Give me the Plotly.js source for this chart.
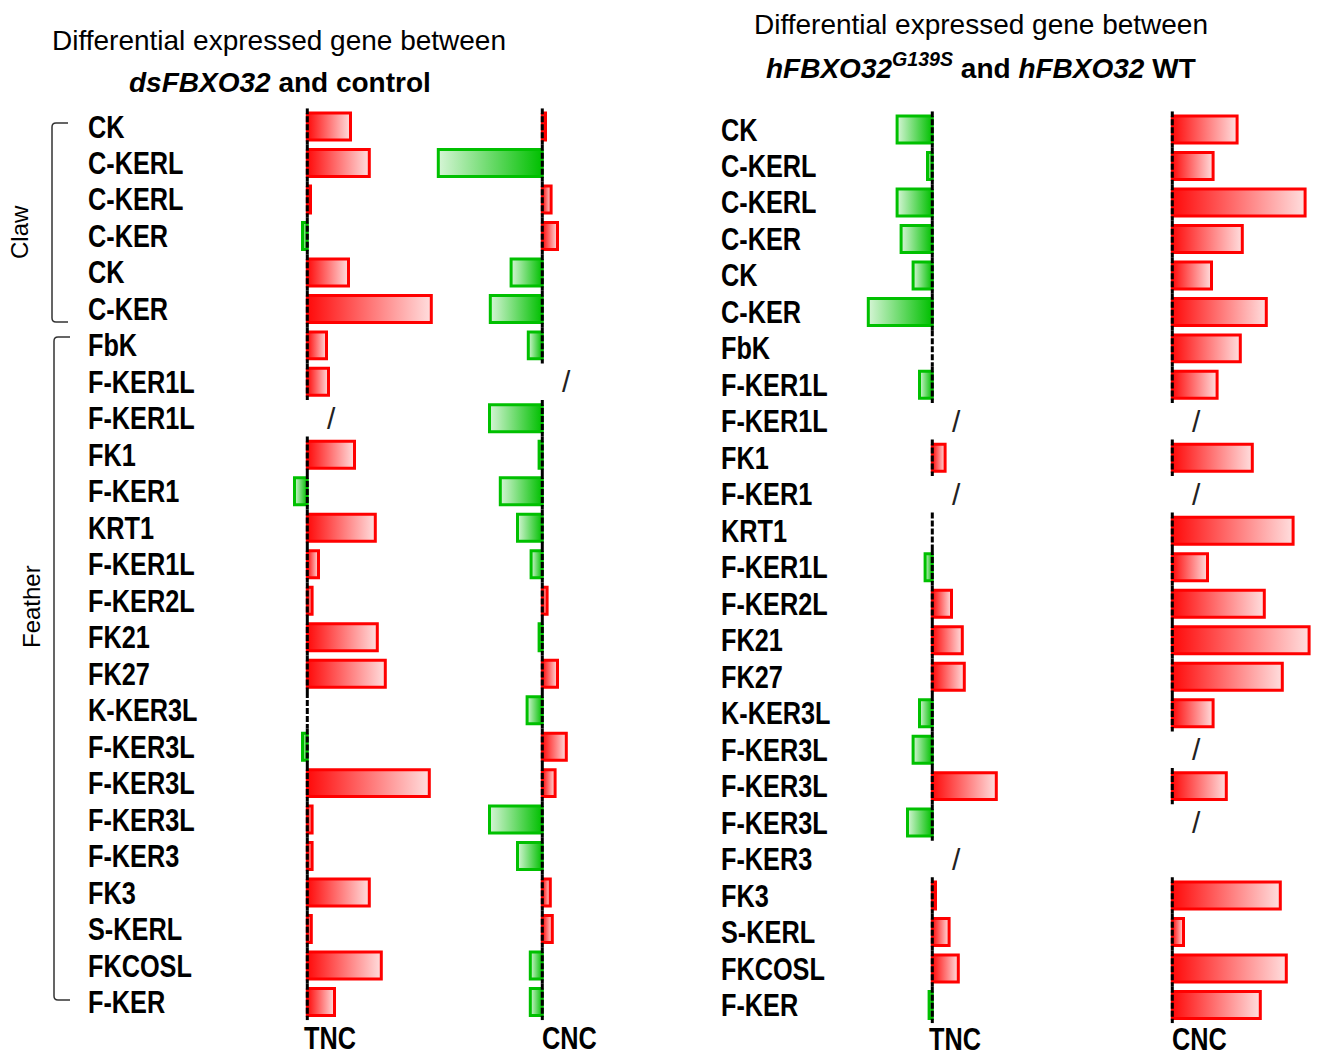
<!DOCTYPE html>
<html>
<head>
<meta charset="utf-8">
<script src="https://cdn.plot.ly/plotly-3.0.1.min.js"></script>
<style>html,body{margin:0;padding:0;background:#fff;}#chart{width:1319px;height:1057px;}</style>
</head>
<body>
<div id="chart"></div>
<script>
// ---------- data ----------
const genes = ['CK','C-KERL','C-KERL','C-KER','CK','C-KER','FbK','F-KER1L','F-KER1L','FK1','F-KER1','KRT1','F-KER1L','F-KER2L','FK21','FK27','K-KER3L','F-KER3L','F-KER3L','F-KER3L','F-KER3','FK3','S-KERL','FKCOSL','F-KER'];
const columns = ['TNC', 'CNC'];
// dsFBXO32 vs control (null = not detected, shown as "/")
const dsTNC = [1.08, 1.55, 0.08, -0.12, 1.03, 3.10, 0.48, 0.53, null, 1.18, -0.32, 1.70, 0.28, 0.12, 1.75, 1.95, 0, -0.12, 3.05, 0.12, 0.12, 1.55, 0.10, 1.85, 0.68];
const dsCNC = [0.08, -2.60, 0.22, 0.38, -0.78, -1.30, -0.35, null, -1.32, -0.08, -1.05, -0.62, -0.28, 0.12, -0.08, 0.38, -0.38, 0.60, 0.32, -1.32, -0.62, 0.20, 0.25, -0.30, -0.30];
// hFBXO32 G139S vs hFBXO32 WT
const mutTNC = [-0.88, -0.12, -0.88, -0.78, -0.48, -1.60, 0, -0.32, null, 0.32, null, 0, -0.18, 0.48, 0.75, 0.80, -0.32, -0.48, 1.60, -0.62, null, 0.08, 0.42, 0.65, -0.08];
const mutCNC = [1.62, 1.02, 3.32, 1.75, 0.98, 2.35, 1.70, 1.12, null, 2.00, null, 3.02, 0.88, 2.30, 3.42, 2.75, 1.02, null, 1.35, null, null, 2.70, 0.28, 2.85, 2.20];
const mutCNCunmarked = [20];   // missing without "/" mark
const groups = [{name: 'Claw', first: 0, last: 5}, {name: 'Feather', first: 6, last: 24}];

// ---------- styling ----------
const W = 1319, H = 1057;
const PXU = 40;                       // pixels per unit on every value axis
const SX = 0.79;                      // horizontal condensing of bold labels (narrow face)
const RED = '#ff0000', GREEN = '#00c000';
const redScale = [[0, '#ff0a0a'], [1, '#ffdede']];
const greenScale = [[0, '#d6f5d6'], [1, '#00c000']];
const labelFont = {family: 'Liberation Sans, Arial', size: 32, color: '#000'};
const titleFont = {family: 'Liberation Sans, Arial', size: 28, color: '#000'};
const px = p => p / W;
const py = p => 1 - p / H;

function axisFor(d0, d1, zeroPx, anchor) {
  return {domain: [px(d0), px(d1)], range: [(d0 - zeroPx) / PXU, (d1 - zeroPx) / PXU],
          visible: false, fixedrange: true, anchor: anchor};
}

const traces = [];
const annotations = [];
const condensed = new Set();
const HALF = 0.37;

function addColumn(values, xa, ya, unmarked) {
  values.forEach((v, i) => {
    if (v === null || v === 0) return;
    traces.push({
      type: 'scatter', mode: 'lines', xaxis: xa, yaxis: ya,
      x: [0, v, v, 0, 0], y: [i - HALF, i - HALF, i + HALF, i + HALF, i - HALF],
      fill: 'toself',
      fillgradient: {type: 'horizontal', colorscale: v > 0 ? redScale : greenScale},
      line: {color: v > 0 ? RED : GREEN, width: 3},
      hoverinfo: 'skip', showlegend: false
    });
  });
  // dashed zero line segments (only rows with a value)
  const zx = [], zy = [];
  values.forEach((v, i) => {
    if (v === null) return;
    zx.push(0, 0, null); zy.push(i - 0.5, i + 0.5, null);
  });
  traces.push({type: 'scatter', mode: 'lines', xaxis: xa, yaxis: ya, x: zx, y: zy,
    line: {color: '#000', width: 3, dash: '6px,2px'}, hoverinfo: 'skip', showlegend: false});
  // "/" marks for missing values
  values.forEach((v, i) => {
    if (v !== null || (unmarked || []).includes(i)) return;
    annotations.push({xref: xa, yref: ya, x: 0.6, y: i, text: '/', showarrow: false,
      font: {family: 'Liberation Sans, Arial', size: 30, color: '#222'}});
  });
}

addColumn(dsTNC, 'x', 'y');
addColumn(dsCNC, 'x2', 'y');
addColumn(mutTNC, 'x3', 'y2');
addColumn(mutCNC, 'x4', 'y2', mutCNCunmarked);

function addCondensed(a) { condensed.add(annotations.length); annotations.push(a); }

// gene labels
genes.forEach((g, i) => {
  addCondensed({xref: 'paper', yref: 'y', x: px(86), y: i, xanchor: 'left', yanchor: 'middle',
    text: '<b>' + g + '</b>', showarrow: false, font: labelFont});
  addCondensed({xref: 'paper', yref: 'y2', x: px(719), y: i, xanchor: 'left', yanchor: 'middle',
    text: '<b>' + g + '</b>', showarrow: false, font: labelFont});
});

// column labels
[['x', -5, 1038], ['x2', -2, 1038], ['x3', -5, 1039], ['x4', -2, 1039]].forEach((c, k) => {
  addCondensed({xref: c[0], yref: 'paper', x: 0, y: py(c[2]), xanchor: 'left', yanchor: 'middle',
    xshift: c[1], text: '<b>' + columns[k % 2] + '</b>', showarrow: false, font: labelFont});
});

// titles
annotations.push({xref: 'paper', yref: 'paper', x: px(279), y: py(40), xanchor: 'center', yanchor: 'middle',
  text: 'Differential expressed gene between', showarrow: false, font: titleFont});
annotations.push({xref: 'paper', yref: 'paper', x: px(280), y: py(82), xanchor: 'center', yanchor: 'middle',
  text: '<b><i>dsFBXO32</i> and control</b>', showarrow: false, font: titleFont});
annotations.push({xref: 'paper', yref: 'paper', x: px(981), y: py(25), xanchor: 'center', yanchor: 'middle',
  text: 'Differential expressed gene between', showarrow: false, font: titleFont});
annotations.push({xref: 'paper', yref: 'paper', x: px(981), y: py(66), xanchor: 'center', yanchor: 'middle',
  text: '<b><i>hFBXO32<sup>G139S</sup></i> and <i>hFBXO32</i> WT</b>', showarrow: false, font: titleFont});

// group brackets
const shapes = [];
const brackets = [{top: 123, bottom: 322, x: 52, tip: 68, tx: 20, ty: 232}, {top: 337, bottom: 1000, x: 54, tip: 70, tx: 31, ty: 607}];
groups.forEach((g, k) => {
  const b = brackets[k];
  const path = `M ${px(b.tip)},${py(b.top)} L ${px(b.x + 4)},${py(b.top)} Q ${px(b.x)},${py(b.top)} ${px(b.x)},${py(b.top + 4)}` +
               ` L ${px(b.x)},${py(b.bottom - 4)} Q ${px(b.x)},${py(b.bottom)} ${px(b.x + 4)},${py(b.bottom)} L ${px(b.tip)},${py(b.bottom)}`;
  shapes.push({type: 'path', xref: 'paper', yref: 'paper', path: path, line: {color: '#333', width: 1.5}});
  annotations.push({xref: 'paper', yref: 'paper', x: px(b.tx), y: py(b.ty), textangle: -90,
    xanchor: 'center', yanchor: 'middle', text: g.name, showarrow: false,
    font: {family: 'Liberation Sans, Arial', size: 24, color: '#000'}});
});

const layout = {
  width: W, height: H, margin: {l: 0, r: 0, t: 0, b: 0},
  paper_bgcolor: '#fff', plot_bgcolor: 'rgba(0,0,0,0)', showlegend: false,
  xaxis: axisFor(250, 435, 307.3, 'y'),
  xaxis2: axisFor(435, 620, 542.3, 'y'),
  xaxis3: axisFor(850, 1050, 932.3, 'y2'),
  xaxis4: axisFor(1050, 1319, 1172.3, 'y2'),
  yaxis: {domain: [1 - 1020.24 / H, 1 - 108.26 / H], range: [24.5, -0.5], visible: false, fixedrange: true, anchor: 'x'},
  yaxis2: {domain: [1 - 1023.24 / H, 1 - 111.26 / H], range: [24.5, -0.5], visible: false, fixedrange: true, anchor: 'x3'},
  annotations: annotations, shapes: shapes
};

Plotly.newPlot('chart', traces, layout, {staticPlot: true, displayModeBar: false}).then(gd => {
  // condense the bold labels horizontally around their left edge (Arial Narrow look)
  gd.querySelectorAll('g.annotation').forEach(n => {
    const idx = +n.getAttribute('data-index');
    if (!condensed.has(idx)) return;
    const t = n.querySelector('text');
    if (!t) return;
    const x0 = t.getBBox().x;
    t.setAttribute('transform', `translate(${x0},0) scale(${SX},1) translate(${-x0},0)`);
  });
});
</script>
</body>
</html>
